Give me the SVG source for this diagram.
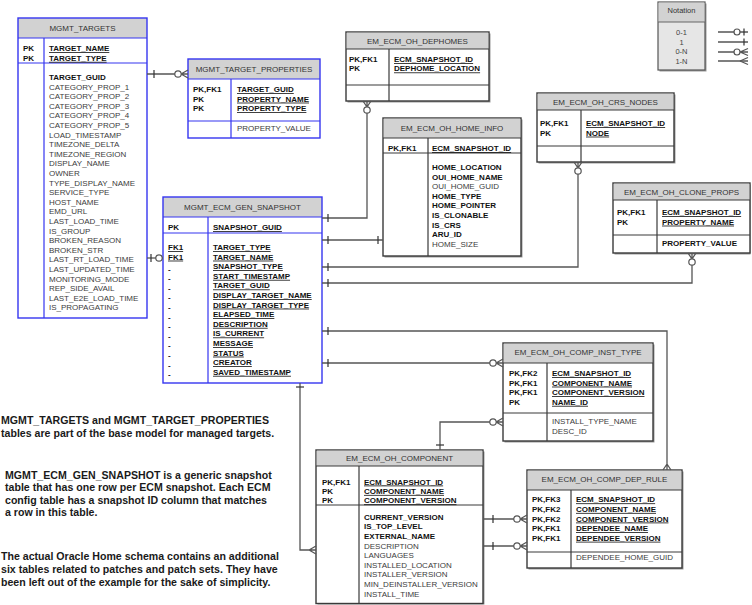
<svg xmlns="http://www.w3.org/2000/svg" width="752" height="605" viewBox="0 0 752 605">
<style>
text{font-family:"Liberation Sans",Arial,sans-serif;font-size:8px;fill:#3c3c3c}
.h{fill:#333;text-anchor:middle}
.b{font-weight:bold;fill:#111}
.k{font-weight:bold;fill:#111;text-decoration:underline}
.p{font-weight:bold;fill:#111}
.note{font-weight:bold;font-size:10.6px;fill:#1a1a1a}
.bx{fill:#fff;stroke:#3a3a3a;stroke-width:1.4}
.hd{fill:#d2d2d2}
.ln{stroke:#3a3a3a;stroke-width:1.2;fill:none}
.lb{stroke:#3535f0;stroke-width:1.2;fill:none}
.ob{fill:none;stroke:#3535f0;stroke-width:1.4}
.sh{fill:#9a9a9a}
.c{stroke:#555;stroke-width:1.3;fill:none}
.ci{stroke:#555;stroke-width:1.2;fill:#fff}
.t{stroke:#333;stroke-width:1.2}
.n{font-size:7.5px;text-anchor:middle;fill:#444}
</style>

<g id="MGMT_TARGETS">
<rect x="18" y="18" width="129" height="300" fill="#fff"/>
<rect class="hd" x="18" y="18" width="129" height="20"/>
<rect class="ob" x="18" y="18" width="129" height="300"/>
<path class="lb" d="M18,38H147M18,63H147M44,38V318"/>
<text class="h" x="82.5" y="30.5">MGMT_TARGETS</text>
<text class="p" x="23" y="51.2">PK</text>
<text class="p" x="23" y="60.8">PK</text>
<text class="k" x="49" y="51.2">TARGET_NAME</text>
<text class="k" x="49" y="60.8">TARGET_TYPE</text>
<text class="b" x="49" y="80">TARGET_GUID</text>
<text x="49" y="89.6">CATEGORY_PROP_1<tspan x="49" dy="9.6">CATEGORY_PROP_2</tspan><tspan x="49" dy="9.6">CATEGORY_PROP_3</tspan><tspan x="49" dy="9.6">CATEGORY_PROP_4</tspan><tspan x="49" dy="9.6">CATEGORY_PROP_5</tspan><tspan x="49" dy="9.6">LOAD_TIMESTAMP</tspan><tspan x="49" dy="9.6">TIMEZONE_DELTA</tspan><tspan x="49" dy="9.6">TIMEZONE_REGION</tspan><tspan x="49" dy="9.6">DISPLAY_NAME</tspan><tspan x="49" dy="9.6">OWNER</tspan><tspan x="49" dy="9.6">TYPE_DISPLAY_NAME</tspan><tspan x="49" dy="9.6">SERVICE_TYPE</tspan><tspan x="49" dy="9.6">HOST_NAME</tspan><tspan x="49" dy="9.6">EMD_URL</tspan><tspan x="49" dy="9.6">LAST_LOAD_TIME</tspan><tspan x="49" dy="9.6">IS_GROUP</tspan><tspan x="49" dy="9.6">BROKEN_REASON</tspan><tspan x="49" dy="9.6">BROKEN_STR</tspan><tspan x="49" dy="9.6">LAST_RT_LOAD_TIME</tspan><tspan x="49" dy="9.6">LAST_UPDATED_TIME</tspan><tspan x="49" dy="9.6">MONITORING_MODE</tspan><tspan x="49" dy="9.6">REP_SIDE_AVAIL</tspan><tspan x="49" dy="9.6">LAST_E2E_LOAD_TIME</tspan><tspan x="49" dy="9.6">IS_PROPAGATING</tspan></text>
</g>

<g id="MGMT_TARGET_PROPERTIES">
<rect x="188" y="59" width="132" height="79" fill="#fff"/>
<rect class="hd" x="188" y="59" width="132" height="20"/>
<rect class="ob" x="188" y="59" width="132" height="79"/>
<path class="lb" d="M188,79H320M188,121H320M231,79V138"/>
<text class="h" x="254" y="72">MGMT_TARGET_PROPERTIES</text>
<text class="p" x="193" y="92">PK,FK1<tspan x="193" dy="9.6">PK</tspan><tspan x="193" dy="9.6">PK</tspan></text>
<text class="k" x="237" y="92">TARGET_GUID</text>
<text class="k" x="237" y="101.6">PROPERTY_NAME</text>
<text class="k" x="237" y="111.2">PROPERTY_TYPE</text>
<text x="237" y="131">PROPERTY_VALUE</text>
</g>

<g id="MGMT_ECM_GEN_SNAPSHOT">
<rect x="163" y="197" width="159" height="186" fill="#fff"/>
<rect class="hd" x="163" y="197" width="159" height="20"/>
<rect class="ob" x="163" y="197" width="159" height="186"/>
<path class="lb" d="M163,217H322M163,233H322M208,217V383"/>
<text class="h" x="242.5" y="210">MGMT_ECM_GEN_SNAPSHOT</text>
<text class="p" x="168" y="230">PK</text>
<text class="k" x="213" y="230">SNAPSHOT_GUID</text>
<text class="k" x="168" y="250">FK1</text>
<text class="k" x="168" y="259.6">FK1</text>
<text class="p" x="168" y="271.6">-<tspan x="168" dy="9.6">-</tspan><tspan x="168" dy="9.6">-</tspan><tspan x="168" dy="9.6">-</tspan><tspan x="168" dy="9.6">-</tspan><tspan x="168" dy="9.6">-</tspan><tspan x="168" dy="9.6">-</tspan><tspan x="168" dy="9.6">-</tspan><tspan x="168" dy="9.6">-</tspan><tspan x="168" dy="9.6">-</tspan><tspan x="168" dy="9.6">-</tspan><tspan x="168" dy="9.6">-</tspan></text>
<text class="k" x="213" y="250">TARGET_TYPE<tspan x="213" dy="9.6">TARGET_NAME</tspan><tspan x="213" dy="9.6">SNAPSHOT_TYPE</tspan><tspan x="213" dy="9.6">START_TIMESTAMP</tspan><tspan x="213" dy="9.6">TARGET_GUID</tspan><tspan x="213" dy="9.6">DISPLAY_TARGET_NAME</tspan><tspan x="213" dy="9.6">DISPLAY_TARGET_TYPE</tspan><tspan x="213" dy="9.6">ELAPSED_TIME</tspan><tspan x="213" dy="9.6">DESCRIPTION</tspan><tspan x="213" dy="9.6">IS_CURRENT</tspan><tspan x="213" dy="9.6">MESSAGE</tspan><tspan x="213" dy="9.6">STATUS</tspan><tspan x="213" dy="9.6">CREATOR</tspan><tspan x="213" dy="9.6">SAVED_TIMESTAMP</tspan></text>
</g>

<g id="EM_ECM_OH_DEPHOMES">
<rect class="sh" x="347.5" y="33.5" width="143" height="69"/>
<rect class="bx" x="346" y="32" width="143" height="69"/>
<rect class="hd" x="346.7" y="32.7" width="141.6" height="16.3"/>
<path class="ln" d="M346,49H489M346,85H489M389,49V101"/>
<text class="h" x="417.5" y="44">EM_ECM_OH_DEPHOMES</text>
<text class="p" x="349" y="62">PK,FK1<tspan x="349" dy="9.4">PK</tspan></text>
<text class="k" x="394" y="62">ECM_SNAPSHOT_ID</text>
<text class="k" x="394" y="71.4">DEPHOME_LOCATION</text>
</g>

<g id="EM_ECM_OH_HOME_INFO">
<rect class="sh" x="384.5" y="119.5" width="138" height="138"/>
<rect class="bx" x="383" y="118" width="138" height="138"/>
<rect class="hd" x="383.7" y="118.7" width="136.6" height="19.3"/>
<path class="ln" d="M383,138H521M383,153H521M428,138V256"/>
<text class="h" x="452" y="131">EM_ECM_OH_HOME_INFO</text>
<text class="p" x="388" y="151">PK,FK1</text>
<text class="k" x="432" y="151">ECM_SNAPSHOT_ID</text>
<text class="b" x="432" y="170">HOME_LOCATION</text>
<text class="b" x="432" y="179.6">OUI_HOME_NAME</text>
<text x="432" y="189.2">OUI_HOME_GUID</text>
<text class="b" x="432" y="198.8">HOME_TYPE<tspan x="432" dy="9.6">HOME_POINTER</tspan><tspan x="432" dy="9.6">IS_CLONABLE</tspan><tspan x="432" dy="9.6">IS_CRS</tspan><tspan x="432" dy="9.6">ARU_ID</tspan></text>
<text x="432" y="246.8">HOME_SIZE</text>
</g>

<g id="EM_ECM_OH_CRS_NODES">
<rect class="sh" x="538.5" y="94.5" width="137" height="69"/>
<rect class="bx" x="537" y="93" width="137" height="69"/>
<rect class="hd" x="537.7" y="93.7" width="135.6" height="16.3"/>
<path class="ln" d="M537,110H674M537,146H674M581,110V162"/>
<text class="h" x="605.5" y="105">EM_ECM_OH_CRS_NODES</text>
<text class="p" x="540" y="126">PK,FK1<tspan x="540" dy="9.6">PK</tspan></text>
<text class="k" x="586" y="126">ECM_SNAPSHOT_ID</text>
<text class="k" x="586" y="135.6">NODE</text>
</g>

<g id="EM_ECM_OH_CLONE_PROPS">
<rect class="sh" x="614.5" y="184.5" width="136" height="70"/>
<rect class="bx" x="613" y="183" width="137" height="70"/>
<rect class="hd" x="613.7" y="183.7" width="135.6" height="16.3"/>
<path class="ln" d="M613,200H750M613,235H750M657,200V253"/>
<text class="h" x="681.5" y="195">EM_ECM_OH_CLONE_PROPS</text>
<text class="p" x="617" y="215">PK,FK1<tspan x="617" dy="9.6">PK</tspan></text>
<text class="k" x="662" y="215">ECM_SNAPSHOT_ID</text>
<text class="k" x="662" y="224.6">PROPERTY_NAME</text>
<text class="b" x="662" y="246">PROPERTY_VALUE</text>
</g>

<g id="EM_ECM_OH_COMP_INST_TYPE">
<rect class="sh" x="504.5" y="344.5" width="150" height="98"/>
<rect class="bx" x="503" y="343" width="150" height="98"/>
<rect class="hd" x="503.7" y="343.7" width="148.6" height="19.3"/>
<path class="ln" d="M503,363H653M503,413H653M547,363V441"/>
<text class="h" x="578" y="355">EM_ECM_OH_COMP_INST_TYPE</text>
<text class="p" x="509" y="376">PK,FK2<tspan x="509" dy="9.6">PK,FK1</tspan><tspan x="509" dy="9.6">PK,FK1</tspan><tspan x="509" dy="9.6">PK</tspan></text>
<text class="k" x="552" y="376">ECM_SNAPSHOT_ID</text>
<text class="k" x="552" y="385.6">COMPONENT_NAME</text>
<text class="k" x="552" y="395.2">COMPONENT_VERSION</text>
<text class="k" x="552" y="404.8">NAME_ID</text>
<text x="552" y="424">INSTALL_TYPE_NAME<tspan x="552" dy="9.6">DESC_ID</tspan></text>
</g>

<g id="EM_ECM_OH_COMPONENT">
<rect class="sh" x="317.5" y="451.5" width="167" height="153"/>
<rect class="bx" x="316" y="450" width="167" height="153.5"/>
<rect class="hd" x="316.7" y="450.7" width="165.6" height="15.3"/>
<path class="ln" d="M316,466H483M316,505H483M359,466V603.5"/>
<text class="h" x="399.5" y="461">EM_ECM_OH_COMPONENT</text>
<text class="p" x="322" y="484.5">PK,FK1<tspan x="322" dy="9.4">PK</tspan><tspan x="322" dy="9.4">PK</tspan></text>
<text class="k" x="364" y="484.5">ECM_SNAPSHOT_ID</text>
<text class="k" x="364" y="493.9">COMPONENT_NAME</text>
<text class="k" x="364" y="503.3">COMPONENT_VERSION</text>
<text class="b" x="364" y="519.7">CURRENT_VERSION<tspan x="364" dy="9.6">IS_TOP_LEVEL</tspan><tspan x="364" dy="9.6">EXTERNAL_NAME</tspan></text>
<text x="364" y="548.5">DESCRIPTION<tspan x="364" dy="9.6">LANGUAGES</tspan><tspan x="364" dy="9.6">INSTALLED_LOCATION</tspan><tspan x="364" dy="9.6">INSTALLER_VERSION</tspan><tspan x="364" dy="9.6">MIN_DEINSTALLER_VERSION</tspan><tspan x="364" dy="9.6">INSTALL_TIME</tspan></text>
</g>

<g id="EM_ECM_OH_COMP_DEP_RULE">
<rect class="sh" x="528.5" y="471.5" width="155" height="98"/>
<rect class="bx" x="527" y="470" width="155" height="98"/>
<rect class="hd" x="527.7" y="470.7" width="153.6" height="19.3"/>
<path class="ln" d="M527,490H682M527,552H682M571,490V568"/>
<text class="h" x="604.5" y="482">EM_ECM_OH_COMP_DEP_RULE</text>
<text class="p" x="532" y="502.3">PK,FK3<tspan x="532" dy="9.6">PK,FK2</tspan><tspan x="532" dy="9.6">PK,FK2</tspan><tspan x="532" dy="9.6">PK,FK1</tspan><tspan x="532" dy="9.6">PK,FK1</tspan></text>
<text class="k" x="576" y="502.3">ECM_SNAPSHOT_ID</text>
<text class="k" x="576" y="511.9">COMPONENT_NAME</text>
<text class="k" x="576" y="521.5">COMPONENT_VERSION</text>
<text class="k" x="576" y="531.1">DEPENDEE_NAME</text>
<text class="k" x="576" y="540.7">DEPENDEE_VERSION</text>
<text x="576" y="559.7">DEPENDEE_HOME_GUID</text>
</g>

<g id="Notation">
<rect class="sh" x="659.5" y="3.5" width="47" height="68"/>
<rect x="658" y="2" width="47" height="68" fill="#e6e6e6" stroke="#555" stroke-width="1.2"/>
<rect class="hd" x="658.6" y="2.6" width="45.8" height="19.4"/>
<path class="ln" d="M658,22H705" style="stroke:#666"/>
<text class="n" x="681.5" y="13" style="fill:#333">Notation</text>
<text class="n" x="681.5" y="35">0-1</text>
<text class="n" x="681.5" y="44.5">1</text>
<text class="n" x="681.5" y="54">0-N</text>
<text class="n" x="681.5" y="63.5">1-N</text>
<path class="c" d="M718,32H748M718,42H748M718,52H737M718,61H748"/>
<circle class="ci" cx="737" cy="32" r="3"/>
<path class="t" d="M744,28.5V35.5M744,38.5V45.5"/>
<path class="c" d="M740,52H748M740,52L748,48.5M740,52L748,55.5M740,61L748,57.5M740,61L748,64.5"/>
<circle class="ci" cx="737" cy="52" r="3"/>
</g>

<g id="connectors">
<path class="c" d="M147,74H188M181,74L188,70M181,74L188,78"/>
<path class="t" d="M154,70V78"/>
<circle class="ci" cx="178" cy="74" r="3.2"/>
<path class="c" d="M147,258H163"/>
<path class="t" d="M151,254V262"/>
<circle class="ci" cx="159" cy="258" r="3.2"/>
<path class="c" d="M322,218H367V101M367,107L363,101M367,107L371,101"/>
<circle class="ci" cx="367" cy="110" r="3.2"/>
<path class="c" d="M322,240H383"/>
<path class="t" d="M378,236V244"/>
<path class="c" d="M322,267H578V162M578,168L574,162M578,168L582,162"/>
<circle class="ci" cx="578" cy="171" r="3.2"/>
<path class="c" d="M322,283H692V253M692,259L688,253M692,259L696,253"/>
<circle class="ci" cx="692" cy="262" r="3.2"/>
<path class="c" d="M322,331H667V470M667,464L663,470M667,464L671,470"/>
<path class="c" d="M322,363H503M496,363L503,359M496,363L503,367"/>
<circle class="ci" cx="493" cy="363" r="3.2"/>
<path class="c" d="M300,383V550H316M309,550L316,546M309,550L316,554"/>
<path class="t" d="M296,387H304"/>
<path class="t" d="M328,214V222M328,236V244M328,263V271M328,279V287M328,327V335M328,359V367"/>
<path class="c" d="M440,450V422H503M496,422L503,418M496,422L503,426"/>
<path class="t" d="M436,445H444"/>
<circle class="ci" cx="493" cy="422" r="3.2"/>
<path class="c" d="M483,519H527M520,519L527,515M520,519L527,523M483,546H527M520,546L527,542M520,546L527,550"/>
<path class="t" d="M493,515V523M493,542V550"/>
<circle class="ci" cx="517" cy="519" r="3.2"/>
<circle class="ci" cx="517" cy="546" r="3.2"/>
</g>

<g id="notes">
<text class="note" x="1" y="424">MGMT_TARGETS and MGMT_TARGET_PROPERTIES</text>
<text class="note" x="1" y="437">tables are part of the base model for managed targets.</text>
<text class="note" x="5" y="479">MGMT_ECM_GEN_SNAPSHOT is a generic snapshot</text>
<text class="note" x="5" y="491">table that has one row per ECM snapshot. Each ECM</text>
<text class="note" x="5" y="504">config table has a snapshot ID column that matches</text>
<text class="note" x="5" y="516">a row in this table.</text>
<text class="note" x="1" y="560">The actual Oracle Home schema contains an additional</text>
<text class="note" x="1" y="573">six tables related to patches and patch sets. They have</text>
<text class="note" x="1" y="586">been left out of the example for the sake of simplicity.</text>
</g>
</svg>
